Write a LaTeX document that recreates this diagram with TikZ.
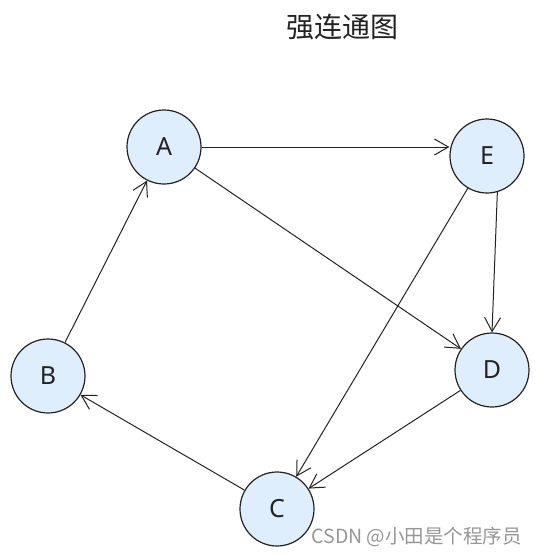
\documentclass[tikz,border=0pt]{standalone}
\usepackage{fontspec}
\setmainfont{Noto Sans}
\newfontfamily\cjk{Noto Sans CJK SC}
\usetikzlibrary{arrows.meta}
\definecolor{inkgray}{RGB}{35,35,35}
\definecolor{hatchblue}{RGB}{222,238,252}
\definecolor{markgray}{RGB}{150,150,150}
\pgfdeclarelayer{nodelayer}
\pgfdeclarelayer{edgelayer}
\pgfsetlayers{edgelayer,main,nodelayer}

\begin{document}
\begin{tikzpicture}[x=1pt, y=-1pt,
	vertex/.style={circle, draw=inkgray, line width=1.2pt, fill=hatchblue, minimum size=74pt, inner sep=0pt, font=\fontsize{25}{28}\selectfont, text=inkgray},
	link/.style={draw=inkgray, line width=1pt, -{Straight Barb[length=14pt, width=16pt, line width=1pt]}}]
	\useasboundingbox (0,0) rectangle (540,555);
	\begin{pgfonlayer}{nodelayer}
		\node [vertex] (A) at (164, 147) {A};
		\node [vertex] (E) at (487, 156) {E};
		\node [vertex] (B) at (48, 376) {B};
		\node [vertex] (D) at (492, 370) {D};
		\node [vertex] (C) at (277, 509) {C};
		\node [font={\cjk\fontsize{28}{31}\selectfont}, text=inkgray] (title) at (342, 27) {强连通图};
		\node [font={\cjk\fontsize{19.5}{22}\selectfont}, text=markgray, anchor=west] (mark) at (308, 537) {CSDN @小田是个程序员};
	\end{pgfonlayer}
	\begin{pgfonlayer}{edgelayer}
		\draw [link] (A.east) to (A.east -| E.west);
		\draw [link] (A) to (D);
		\draw [link] (B) to (A);
		\draw [link] (E.-74) to (D.north);
		\draw [link] (E) to (C);
		\draw [link] (D) to (C);
		\draw [link] (C) to (B);
	\end{pgfonlayer}
\end{tikzpicture}
\end{document}
